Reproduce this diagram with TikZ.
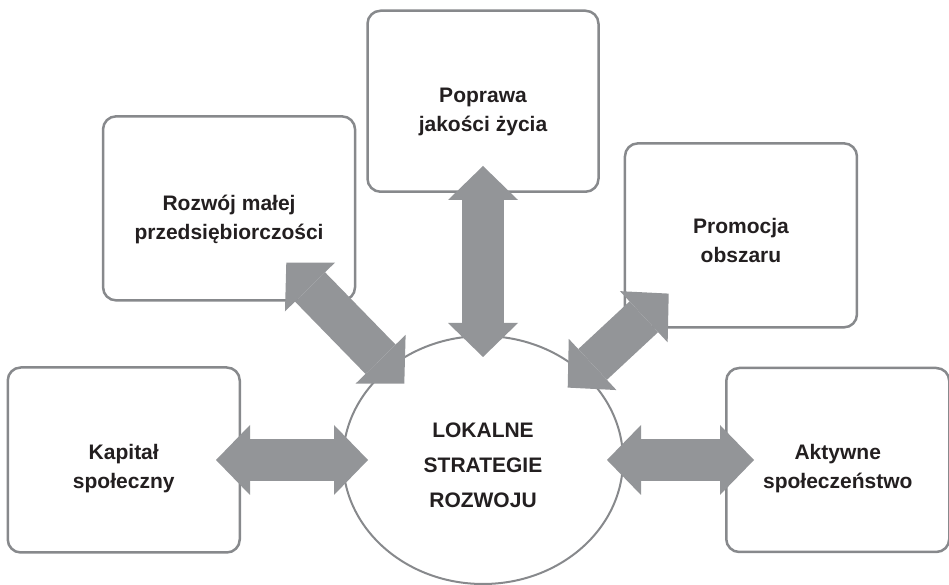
\documentclass[tikz,border=0pt]{standalone}
\usepackage{fontspec}
\setmainfont{Liberation Sans}
\usepackage{xcolor}
\usepackage{tikz}
\usetikzlibrary{positioning,shapes,arrows.meta,calc}
\definecolor{boxgray}{RGB}{135,137,140}
\definecolor{arrowgray}{RGB}{147,149,152}
\definecolor{textdark}{RGB}{35,31,32}
\newcommand{\toppad}[1]{\rule{0pt}{#1}}
\tikzset{%
	block/.style    = {draw=boxgray, line width=2.5pt, rectangle, rounded corners=13pt,
		align=center, text=textdark, font=\bfseries\fontsize{21}{29}\selectfont},
	core/.style     = {draw=boxgray, line width=2pt, ellipse, minimum width=280pt,
		minimum height=248pt, align=center, text=textdark,
		font=\bfseries\fontsize{21}{35}\selectfont},
	fat/.style      = {arrowgray, line width=42pt}
}

\begin{document}
\begin{tikzpicture}[x=1pt, y=1pt,
          >={Triangle[length=34pt,width=70pt,line width=0pt]}]
          \def\sidegap{101pt}
          \def\topgap{142pt}
          \useasboundingbox (0,0) rectangle (949,585);
        \draw
            node at (483,125)[core, name=lsr]{\toppad{26pt}LOKALNE\\STRATEGIE\\ROZWOJU}
            node [block, minimum width=232pt, minimum height=185pt, left =\sidegap of lsr] (kap) {\toppad{33pt}Kapitał\\społeczny}
            node [block, minimum width=223pt, minimum height=184pt, right =\sidegap of lsr] (akt) {\toppad{33pt}Aktywne\\społeczeństwo}
            node [block, minimum width=231pt, minimum height=181pt, above =\topgap of lsr] (pop) {\toppad{35pt}Poprawa\\jakości życia}

            node [block, minimum width=252pt, minimum height=184pt, above left =70pt and 27pt of lsr] (roz) {\toppad{38pt}Rozwój małej\\przedsiębiorczości}
            node [block, minimum width=232pt, minimum height=184pt, above right =43pt and 41pt of lsr] (pro) {\toppad{26pt}Promocja\\obszaru};

            \draw[fat, <->]([xshift=-25pt]kap.east) -- ([xshift=26pt]lsr.west);
            \draw[fat, <->]([xshift=-17pt]lsr.east) -- ([xshift=29pt]akt.west);
            \draw[fat, <->]([yshift=27pt]pop.south) -- ([yshift=-22pt]lsr.north);

            \draw[fat, <->]([shift={(-70pt,39pt)}]roz.south east) -- ([shift={(21pt,-12pt)}]lsr.north west);
            \draw[fat, <->]([shift={(-15pt,-16pt)}]lsr.north east) -- ([shift={(45pt,35pt)}]pro.south west);
    \end{tikzpicture}
\end{document}
